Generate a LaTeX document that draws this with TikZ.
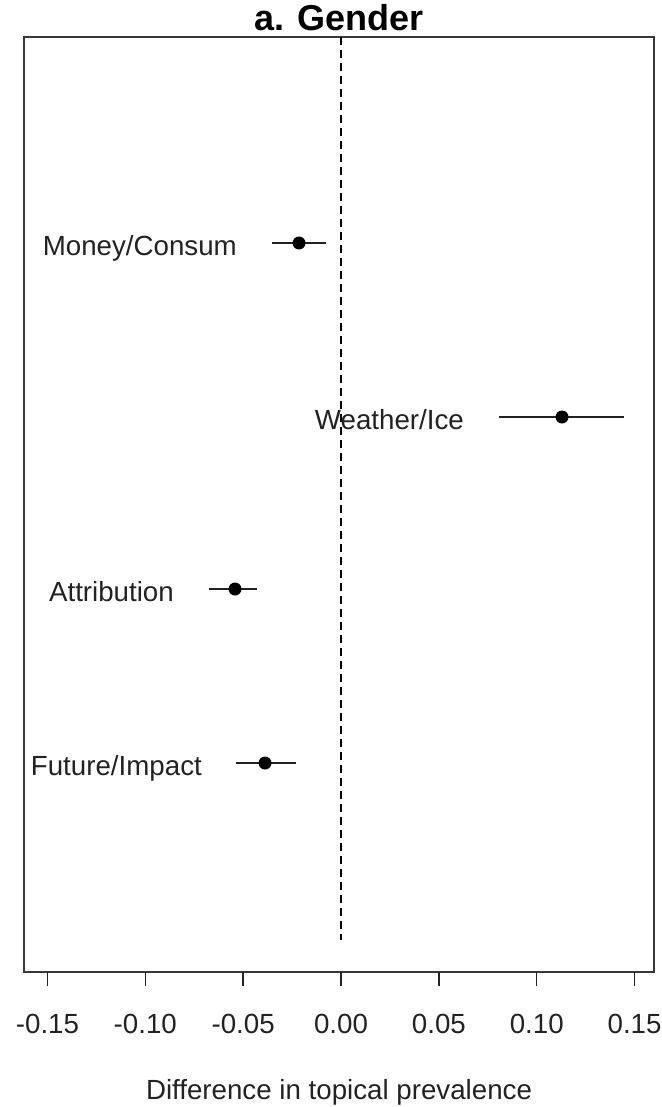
\documentclass[tikz,border=0pt]{standalone}
\usepackage{fontspec}
\setmainfont{Liberation Sans}
\definecolor{ink}{HTML}{222222}
\tikzset{
  frame/.style={draw=ink!90!white, line width=2pt},
  ci/.style={draw=ink, line width=2.2pt},
  pt/.style={circle, fill=black, inner sep=0pt, minimum size=13pt},
  lab/.style={anchor=base east, inner sep=0pt, text=ink, font=\fontsize{27.7}{32}\selectfont},
  ticklab/.style={anchor=base, inner sep=0pt, text=ink, font=\fontsize{27.7}{32}\selectfont},
  tickmark/.style={draw=ink, line width=1.5pt},
  zero/.style={draw=black, line width=1.4pt, dash pattern=on 8pt off 5pt}
}
\begin{document}
\begin{tikzpicture}[x=1pt,y=-1pt]
\useasboundingbox (0,0) rectangle (661,1107);
% frame
\draw[frame] (24,37) rectangle (654,972);
% title
\node[anchor=base, inner sep=0pt, font=\fontsize{36}{40}\selectfont\bfseries] (title) at (339,31) {a. Gender};
% zero line
\coordinate (z0) at (341,37);
\coordinate (z1) at (341,940);
\draw[zero] (z0) -- (z1);
% ticks and labels
\foreach \v/\t [count=\i] in {-3/-0.15,-2/-0.10,-1/-0.05,0/0.00,1/0.05,2/0.10,3/0.15}{
  \coordinate (ta\i) at ({341+97.85*\v},972);
  \coordinate (tb\i) at ({341+97.85*\v},986);
  \draw[tickmark] (ta\i) -- (tb\i);
  \node[ticklab] (tl\i) at ({341+97.85*\v},1033) {\t};
}
% axis title
\node[ticklab] (xlab) at (339,1099) {Difference in topical prevalence};
% Money/Consum
\coordinate (m0) at (272,243); \coordinate (m1) at (326,243);
\draw[ci] (m0) -- (m1);
\node[pt] (mp) at (299,243) {};
\node[lab] (ml) at (237,255) {Money/Consum};
% Weather/Ice
\coordinate (w0) at (499,417); \coordinate (w1) at (624,417);
\draw[ci] (w0) -- (w1);
\node[pt] (wp) at (562,417) {};
\node[lab] (wl) at (464,429) {Weather/Ice};
% Attribution
\coordinate (a0) at (209,589); \coordinate (a1) at (257,589);
\draw[ci] (a0) -- (a1);
\node[pt] (ap) at (235,589) {};
\node[lab] (al) at (174,601) {Attribution};
% Future/Impact
\coordinate (f0) at (236,763); \coordinate (f1) at (296,763);
\draw[ci] (f0) -- (f1);
\node[pt] (fp) at (265,763) {};
\node[lab] (fl) at (202,775) {Future/Impact};
\end{tikzpicture}
\end{document}
